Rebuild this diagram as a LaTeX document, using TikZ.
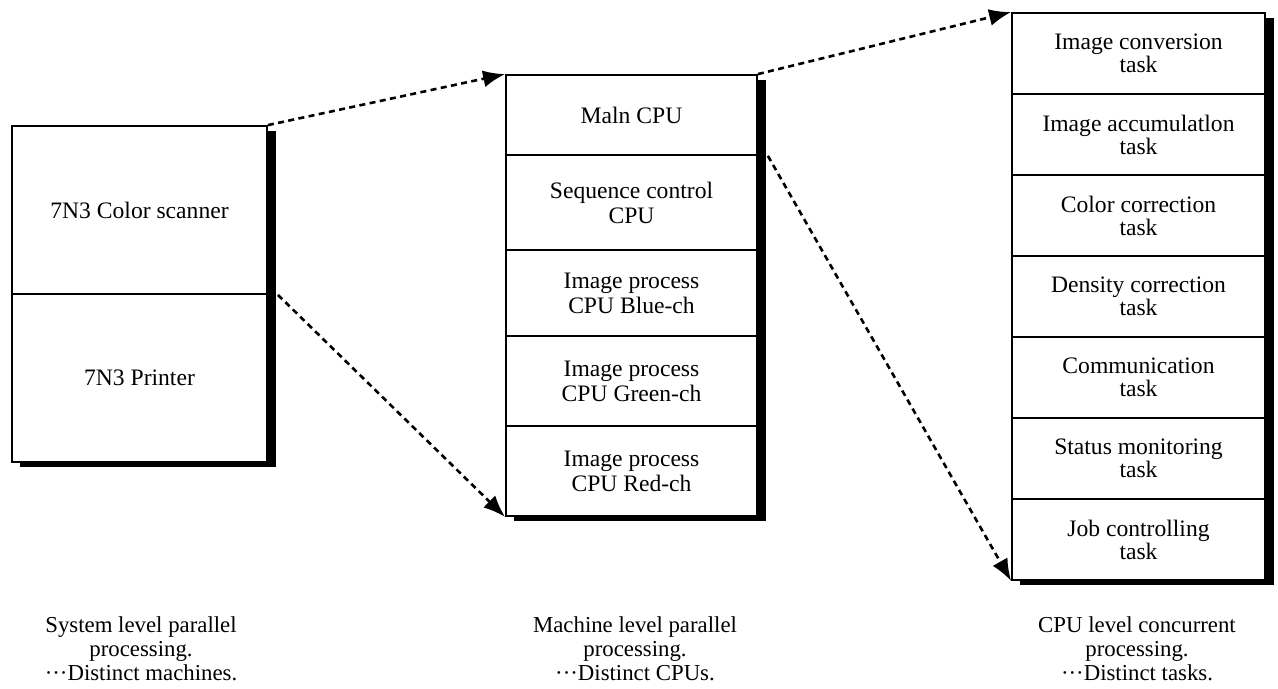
\documentclass[tikz,border=0pt]{standalone}
\usepackage{fontspec}
\setmainfont{Liberation Serif}
\usetikzlibrary{arrows.meta}

\tikzstyle{cell}=[draw, fill=white, line width=0.9pt, inner sep=0pt, align=center, font=\fontsize{11.8}{12.5}\selectfont]
\tikzstyle{task}=[cell, minimum width=126.5pt, minimum height=40.5pt, font=\fontsize{11.8}{11.5}\selectfont]
\tikzstyle{shade}=[fill=black]
\tikzstyle{dedge}=[line width=1.3pt, dash pattern=on 3pt off 2.2pt, -{Latex[length=11pt,width=8.5pt]}]
\tikzstyle{caption}=[align=center, inner sep=0pt, font=\fontsize{11.4}{12}\selectfont]

\begin{document}
\begin{tikzpicture}[x=0.5pt,y=-0.5pt]
        \useasboundingbox (0,0) rectangle (1278,689);
        % shadows
        \fill[shade] (20,131) rectangle (276,467);
        \fill[shade] (514,80) rectangle (766,521);
        \fill[shade] (1020,18) rectangle (1274,585);
        % machines
        \draw (139.5,210) node[cell,minimum width=127.5pt,minimum height=84pt](scanner){7N3 Color scanner};
        \draw (139.5,378) node[cell,minimum width=127.5pt,minimum height=84pt](printer){7N3 Printer};
        % CPUs
        \draw (631.5,115)   node[cell,minimum width=125.5pt,minimum height=40pt](maincpu){Maln CPU};
        \draw (631.5,202.5) node[cell,minimum width=125.5pt,minimum height=47.5pt](seqcpu){Sequence control\\CPU};
        \draw (631.5,293)   node[cell,minimum width=125.5pt,minimum height=43pt](bluecpu){Image process\\CPU Blue-ch};
        \draw (631.5,381)   node[cell,minimum width=125.5pt,minimum height=45pt](greencpu){Image process\\CPU Green-ch};
        \draw (631.5,471)   node[cell,minimum width=125.5pt,minimum height=45pt](redcpu){Image process\\CPU Red-ch};
        % tasks
        \draw (1138.5,53.5)  node[task](convtask){Image conversion\\task};
        \draw (1138.5,134.5) node[task](accutask){Image accumulatlon\\task};
        \draw (1138.5,215.5) node[task](colortask){Color correction\\task};
        \draw (1138.5,296.5) node[task](denstask){Density correction\\task};
        \draw (1138.5,377.5) node[task](commtask){Communication\\task};
        \draw (1138.5,458.5) node[task](stattask){Status monitoring\\task};
        \draw (1138.5,539.5) node[task](jobtask){Job controlling\\task};
        %
        \path
            (scanner.north east)               edge[dedge]  (maincpu.north west)
            ([xshift=5pt]scanner.south east)   edge[dedge]  (redcpu.south west)
            (maincpu.north east)               edge[dedge]  (convtask.north west)
            ([xshift=5pt]maincpu.south east)   edge[dedge]  (jobtask.south west)
        ;
        % captions
        \draw (141,649)  node[caption](syslevel){System level parallel\\processing.\\···Distinct machines.};
        \draw (635,649)  node[caption](maclevel){Machine level parallel\\processing.\\···Distinct CPUs.};
        \draw (1137,649) node[caption](cpulevel){CPU level concurrent\\processing.\\···Distinct tasks.};
\end{tikzpicture}
\end{document}
